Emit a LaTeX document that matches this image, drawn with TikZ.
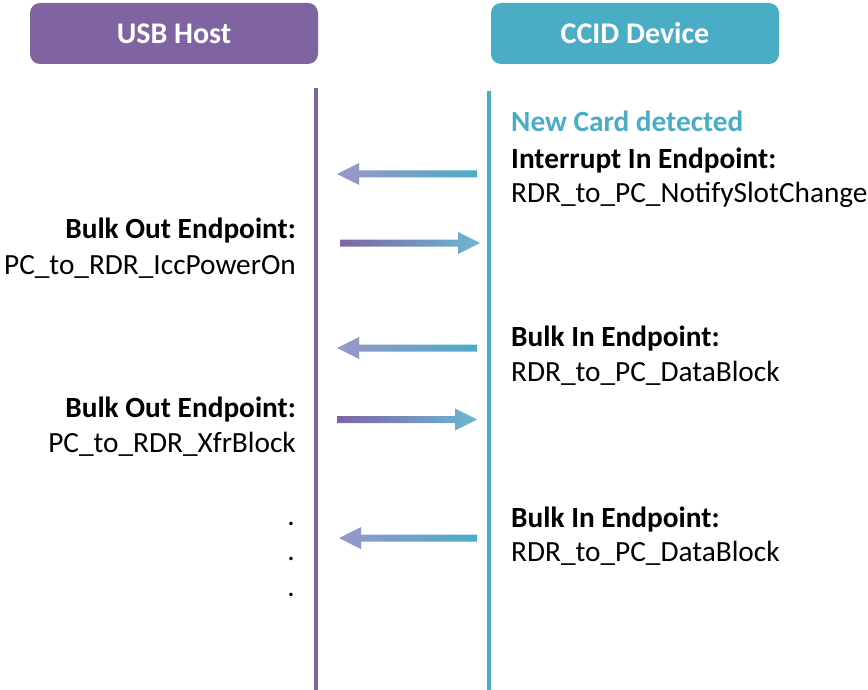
\documentclass[tikz,border=0pt]{standalone}
\usepackage{fontspec}
\setmainfont{Carlito}
\definecolor{hostpurple}{HTML}{8064A2}
\definecolor{devteal}{HTML}{4BACC6}
\definecolor{midblue}{HTML}{B8CCE6}
\definecolor{lavender}{HTML}{9A96C8}
\definecolor{softteal}{HTML}{6CB8D3}

% gradient message arrow: #1 name, #2 tail x, #3 head base x, #4 tip x, #5 y, #6 left colour, #7 right colour
\newcommand\msgarrow[7]{%
  \coordinate (#1-tail) at (#2,#5);
  \coordinate (#1-tip) at (#4,#5);
  \path[left color=#6, middle color=midblue, right color=#7, shading angle=90]
    (#2,#5-3.5) -- (#3,#5-3.5) -- (#3,#5-11) -- (#1-tip) -- (#3,#5+11)
    -- (#3,#5+3.5) -- (#2,#5+3.5) -- cycle;
}

\begin{document}
\begin{tikzpicture}[x=1pt,y=-1pt,
  header/.style={rounded corners=10pt, minimum width=288pt, minimum height=61pt,
    text=white, font=\fontsize{30}{34}\selectfont\bfseries, inner sep=0pt},
  lifeline/.style={line width=4pt},
  txt/.style={font=\fontsize{29.3}{34}\selectfont, inner sep=0pt},
  btxt/.style={txt, font=\fontsize{29.3}{34}\selectfont\bfseries}]
\useasboundingbox (0,0) rectangle (868,690);

% participants
\node[header, fill=hostpurple] (host) at (174,33.5) {USB Host};
\node[header, fill=devteal] (dev) at (635,33.5) {CCID Device};

% lifelines
\coordinate (hosttop) at (316,88);
\coordinate (hostbot) at (316,690);
\coordinate (devtop) at (489,91);
\coordinate (devbot) at (489,690);
\draw[lifeline, hostpurple] (hosttop) -- (hostbot);
\draw[lifeline, devteal] (devtop) -- (devbot);

% messages
\msgarrow{m1}{477}{359}{337}{174}{lavender}{devteal}
\msgarrow{m2}{340}{458}{480}{243}{hostpurple}{softteal}
\msgarrow{m3}{477}{359}{337}{348}{lavender}{devteal}
\msgarrow{m4}{337}{455}{477}{419.5}{hostpurple}{softteal}
\msgarrow{m5}{477}{361}{339}{538}{lavender}{devteal}

% device side labels
\node[btxt, text=devteal, anchor=base west] (newcard) at (511,132) {New Card detected};
\node[btxt, anchor=base west] (intep) at (511,168) {Interrupt In Endpoint:};
\node[txt, anchor=base west] (notify) at (511,203) {RDR\_to\_PC\_NotifySlotChange};
\node[btxt, anchor=base west] (bulkin1) at (511,346) {Bulk In Endpoint:};
\node[txt, anchor=base west] (data1) at (511,381) {RDR\_to\_PC\_DataBlock};
\node[btxt, anchor=base west] (bulkin2) at (511,527) {Bulk In Endpoint:};
\node[txt, anchor=base west] (data2) at (511,561) {RDR\_to\_PC\_DataBlock};

% host side labels
\node[btxt, anchor=base east] (bulkout1) at (296,238) {Bulk Out Endpoint:};
\node[txt, anchor=base east] (poweron) at (296,274) {PC\_to\_RDR\_IccPowerOn};
\node[btxt, anchor=base east] (bulkout2) at (296,417) {Bulk Out Endpoint:};
\node[txt, anchor=base east] (xfr) at (296,452) {PC\_to\_RDR\_XfrBlock};
\node[txt, anchor=base east] (dot1) at (295,525) {.};
\node[txt, anchor=base east] (dot2) at (295,560) {.};
\node[txt, anchor=base east] (dot3) at (295,596) {.};
\end{tikzpicture}
\end{document}
